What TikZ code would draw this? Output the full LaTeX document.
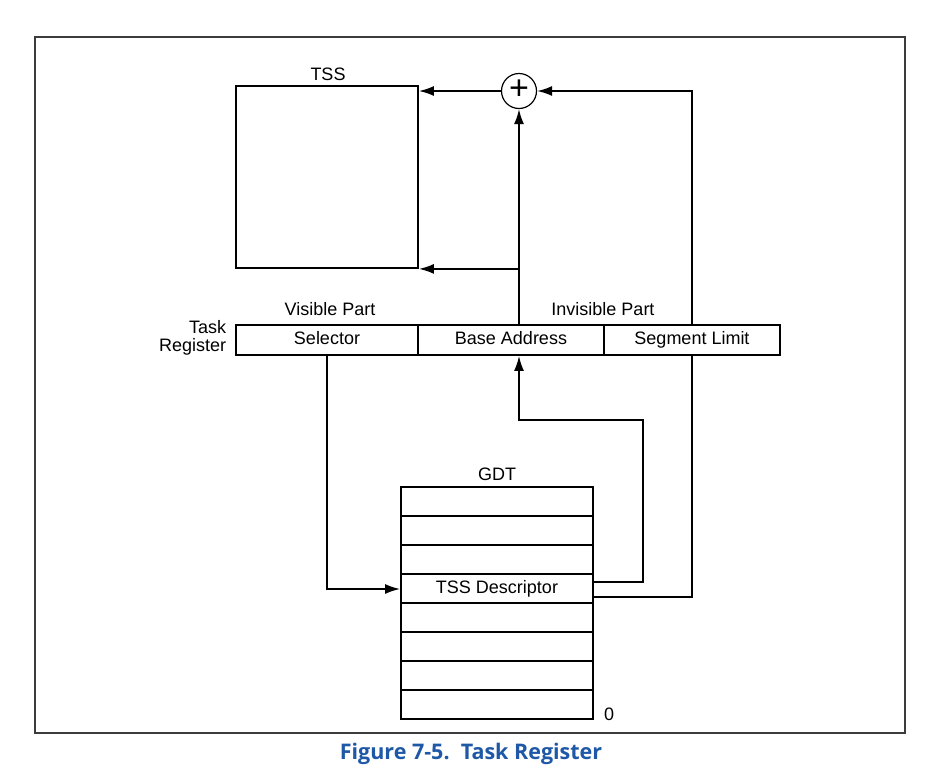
\documentclass[tikz,border=0pt]{standalone}
\usepackage{fontspec}
\setmainfont{Liberation Sans}
\newfontfamily\capfont{Open Sans}
\usetikzlibrary{arrows.meta,calc}
\definecolor{capblue}{RGB}{30,88,166}
\definecolor{framegray}{RGB}{60,60,60}
\begin{document}
\begin{tikzpicture}[x=1pt,y=-1pt,
  line width=1.8pt,
  txt/.style={font=\fontsize{18}{21}\selectfont, inner sep=0pt},
  cell/.style={draw, line width=1.8pt, minimum height=30pt, inner sep=0pt, text height=12.5pt, text depth=3.5pt, font=\fontsize{18}{21}\selectfont},
  row/.style={draw, line width=1.8pt, minimum width=192pt, minimum height=29pt, inner sep=0pt},
  arr/.style={-{Latex[length=15pt,width=10pt]}, line width=1.8pt},
  ln/.style={line width=1.8pt}]
\useasboundingbox (0,0) rectangle (948,772);
% frame
\draw[line width=2pt, framegray] (35,37) rectangle (905,733);
% TSS box
\node[draw, line width=1.8pt, minimum width=182pt, minimum height=182pt, inner sep=0pt] (tss) at (327,177) {};
\node[txt] (tsslbl) at (328,74) {TSS};
% plus
\node[draw, circle, line width=1.2pt, minimum size=35pt, inner sep=0pt] (plus) at (519,91) {};
\node[inner sep=0pt, font=\fontsize{34}{34}\selectfont] (plussign) at (519,89.5) {+};
% register
\node[cell, minimum width=182pt] (sel) at (327,340) {Selector};
\node[cell, minimum width=186pt] (base) at (511,340) {Base Address};
\node[cell, minimum width=176pt] (seg) at (692,340) {Segment Limit};
\node[txt] (vis) at (330,309) {Visible Part};
\node[txt] (invis) at (603,309) {Invisible Part};
\node[txt, align=right, anchor=east, font=\fontsize{18}{18.5}\selectfont] (treg) at (227,338) {Task\\Register};
% GDT
\foreach \i in {0,...,7} {
  \node[row] (g\i) at (497,{487+29*\i+14.5}) {};
}
\node[txt] at (g3) (desc) {TSS Descriptor};
\node[txt] (gdtlbl) at (497,474) {GDT};
\node[txt] (zero) at (609,714) {0};
% connectors
\draw[arr] (plus.west) -- (plus.west -| tss.east);
\draw[arr] (seg.north) -- (seg.north |- plus.east) -- (plus.east);
\draw[arr] (plus.south |- base.north) -- (plus.south);
\coordinate (bt) at (plus.south |- tss.south);
\draw[arr] (bt) -- (tss.south east);
\coordinate (sk) at ($(sel.south |- g3.west)+(0,0.5)$);
\draw[arr] (sel.south) -- (sk) -- (sk -| g3.west);
\coordinate (d1) at ($(g3.east)+(0,-6.5)$);
\coordinate (d2) at ($(g3.east)+(0,8.5)$);
\coordinate (k1) at ($(d1)+(49,0)$);
\coordinate (k2) at ($(k1)+(0,-162)$);
\draw[arr] (d1) -- (k1) -- (k2) -- (k2 -| plus.south) -- (plus.south |- base.south);
\draw[ln] (d2) -- (d2 -| seg.south) -- (seg.south);
% caption
\node[inner sep=0pt, text=capblue, font=\capfont\bfseries\fontsize{21.5}{24}\selectfont] (cap) at (471,754) {Figure 7-5.\ \ Task Register};
\end{tikzpicture}
\end{document}
